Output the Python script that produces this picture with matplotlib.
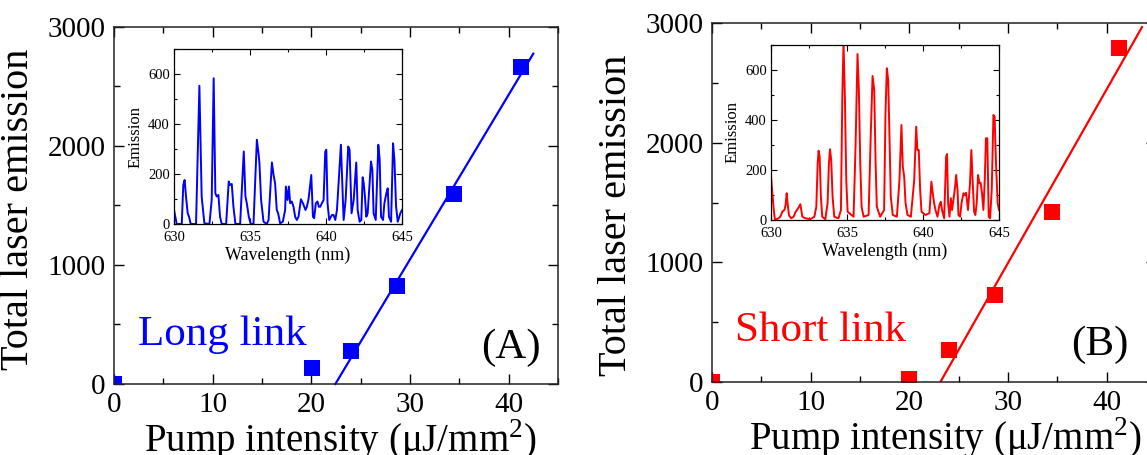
import numpy as np
import matplotlib
matplotlib.use('Agg')
import matplotlib.pyplot as plt
from matplotlib.ticker import MultipleLocator

plt.rcParams['font.family'] = ['Liberation Serif', 'DejaVu Serif']
plt.rcParams['mathtext.fontset'] = 'custom'
plt.rcParams['mathtext.rm'] = 'Liberation Serif'

# main data: pump intensity vs total laser emission
pump_a = [0.0, 20.1, 24.0, 28.7, 34.5, 41.3]
emis_a = [0, 135, 278, 820, 1595, 2665]
pump_b = [0.0, 20.0, 24.0, 28.7, 34.5, 41.3]
emis_b = [0, 25, 267, 727, 1420, 2790]
fit_end_a = 42.5
fit_end_b = 43.6

# inset spectra
wl_a = [630.00, 630.18, 630.51, 630.61, 630.70, 630.79, 630.90, 630.99, 631.10, 631.45,
        631.67, 631.82, 631.93, 632.00, 632.33, 632.48, 632.61, 632.72, 632.81, 632.92,
        633.03, 633.14, 633.43, 633.60, 633.69, 633.80, 633.91, 634.04, 634.35, 634.59,
        634.70, 634.79, 634.92, 635.05, 635.23, 635.45, 635.56, 635.62, 635.73, 635.89,
        636.11, 636.22, 636.44, 636.55, 636.65, 636.76, 636.85, 636.98, 637.16, 637.31,
        637.36, 637.47, 637.56, 637.64, 637.75, 637.86, 637.97, 638.08, 638.19, 638.35,
        638.48, 638.57, 638.65, 638.74, 638.85, 639.03, 639.14, 639.22, 639.33, 639.44,
        639.53, 639.62, 639.73, 639.84, 639.95, 640.02, 640.10, 640.21, 640.39, 640.50,
        640.61, 640.72, 640.98, 641.11, 641.16, 641.29, 641.46, 641.55, 641.68, 641.82,
        641.99, 642.08, 642.21, 642.32, 642.41, 642.48, 642.56, 642.65, 642.74, 642.96,
        643.05, 643.13, 643.27, 643.44, 643.53, 643.62, 643.75, 643.84, 643.97, 644.06,
        644.14, 644.28, 644.41, 644.50, 644.61, 644.72, 644.89, 645.00]
sp_a = [56, 0, 0, 156, 176, 110, 43, 29, 0, 0,
        553, 110, 43, 3, 0, 96, 583, 123, 110, 116,
        29, 0, 0, 170, 156, 160, 69, 0, 0, 290,
        110, 83, 29, 0, 0, 337, 283, 243, 96, 9,
        0, 16, 246, 196, 163, 56, 43, 3, 9, 56,
        150, 96, 150, 83, 90, 69, 29, 16, 29, 99,
        83, 69, 56, 69, 99, 196, 29, 23, 83, 90,
        69, 69, 83, 96, 290, 297, 83, 16, 36, 36,
        16, 56, 317, 96, 16, 96, 310, 297, 43, 96,
        246, 56, 9, 16, 187, 163, 110, 29, 43, 250,
        216, 43, 16, 317, 257, 29, 16, 83, 123, 143,
        29, 9, 323, 257, 69, 9, 43, 56]

wl_b = [630.00, 630.09, 630.18, 630.26, 630.50, 630.61, 630.74, 630.88, 630.96, 631.03,
        631.09, 631.18, 631.31, 631.49, 631.62, 631.71, 631.84, 631.93, 631.99, 632.06,
        632.26, 632.58, 632.85, 632.98, 633.07, 633.13, 633.20, 633.28, 633.37, 633.57,
        633.72, 633.81, 633.88, 633.96, 634.05, 634.16, 634.44, 634.60, 634.69, 634.77,
        634.86, 634.95, 635.04, 635.43, 635.56, 635.69, 635.78, 635.87, 635.96, 636.09,
        636.42, 636.57, 636.68, 636.79, 636.88, 636.96, 637.18, 637.44, 637.53, 637.62,
        637.71, 637.80, 637.88, 638.01, 638.28, 638.45, 638.58, 638.67, 638.76, 638.85,
        638.98, 639.20, 639.42, 639.55, 639.63, 639.72, 639.81, 639.90, 640.16, 640.42,
        640.55, 640.64, 640.73, 640.82, 640.95, 641.08, 641.17, 641.25, 641.39, 641.52,
        641.58, 641.65, 641.74, 641.83, 641.91, 642.00, 642.11, 642.18, 642.27, 642.33,
        642.44, 642.53, 642.66, 642.75, 642.83, 642.96, 643.09, 643.18, 643.26, 643.36,
        643.44, 643.53, 643.62, 643.71, 643.79, 643.88, 643.97, 644.06, 644.14, 644.23,
        644.32, 644.41, 644.52, 644.63, 644.71, 644.80, 644.91, 645.00]
sp_b = [173, 107, 40, 0, 7, 13, 33, 40, 60, 107,
        67, 20, 7, 13, 33, 40, 53, 63, 40, 13,
        7, 3, 13, 53, 227, 277, 253, 93, 13, 3,
        67, 227, 283, 240, 93, 13, 7, 40, 493, 710,
        493, 160, 33, 13, 293, 664, 520, 227, 53, 13,
        20, 360, 576, 520, 227, 53, 13, 40, 427, 607,
        560, 320, 93, 20, 13, 160, 380, 213, 173, 67,
        20, 13, 160, 373, 280, 280, 120, 33, 20, 27,
        153, 107, 67, 40, 13, 60, 73, 40, 7, 253,
        264, 67, 13, 87, 40, 80, 133, 180, 120, 20,
        13, 67, 107, 100, 109, 40, 147, 280, 160, 33,
        20, 67, 180, 147, 149, 107, 40, 160, 327, 327,
        13, 7, 120, 420, 413, 227, 67, 40]

blue = '#0000ff'
red = '#ff0000'


def style_main(ax):
    ax.set_xlim(0, 45)
    ax.set_ylim(0, 3000)
    ax.xaxis.set_major_locator(MultipleLocator(10))
    ax.xaxis.set_minor_locator(MultipleLocator(5))
    ax.yaxis.set_major_locator(MultipleLocator(1000))
    ax.yaxis.set_minor_locator(MultipleLocator(500))
    ax.tick_params(which='both', direction='in', top=True, right=True, width=1, labelsize=21, pad=6)
    ax.tick_params(which='major', length=7)
    ax.tick_params(which='minor', length=4)
    for s in ax.spines.values():
        s.set_linewidth(1.1)
        s.set_color('#222222')


def style_inset(ax):
    ax.set_xlim(630, 645)
    ax.set_ylim(0, 700)
    ax.xaxis.set_major_locator(MultipleLocator(5))
    ax.xaxis.set_minor_locator(MultipleLocator(2.5))
    ax.yaxis.set_major_locator(MultipleLocator(200))
    ax.yaxis.set_minor_locator(MultipleLocator(100))
    ax.tick_params(which='both', direction='in', top=True, right=True, width=0.8, labelsize=10.5)
    ax.tick_params(axis='x', pad=5)
    ax.tick_params(axis='y', pad=3)
    ax.tick_params(which='major', length=4)
    ax.tick_params(which='minor', length=2.5)
    for s in ax.spines.values():
        s.set_linewidth(0.9)
    ax.set_xlabel('Wavelength (nm)', fontsize=13, labelpad=2)
    ax.set_ylabel('Emission', fontsize=12, labelpad=3)


def fit_line(x, y, x_end):
    k, b = np.polyfit(x[2:], y[2:], 1)
    x0 = -b / k
    xs = np.array([x0, x_end])
    return xs, k * xs + b


fig = plt.figure(figsize=(11.47, 4.55), dpi=100)

# panel A
axA = fig.add_axes([0.0994, 0.156, 0.387, 0.785])
style_main(axA)
xs, ys = fit_line(np.array(pump_a), np.array(emis_a), fit_end_a)
axA.plot(xs, ys, color=blue, lw=1.6, clip_on=False)
axA.plot(pump_a, emis_a, 's', color=blue, ms=11.5, mew=0)
axA.text(2.4, 330, 'Long link', color=blue, fontsize=31)
axA.text(43.3, 220, '(A)', color='black', fontsize=31, ha='right')
axA.set_ylabel('Total laser emission', fontsize=29)
axA.yaxis.set_label_coords(-0.173, 0.49)
axA.set_xlabel('Pump intensity (μJ/mm$^2$)', fontsize=28)
axA.xaxis.set_label_coords(0.509, -0.093)

insA = fig.add_axes([0.1517, 0.5077, 0.1988, 0.3846])
style_inset(insA)
insA.plot(wl_a, sp_a, color=blue, lw=1.4)

# panel B
axB = fig.add_axes([0.6207, 0.1604, 0.387, 0.789])
style_main(axB)
xs, ys = fit_line(np.array(pump_b), np.array(emis_b), fit_end_b)
axB.plot(xs, ys, color=red, lw=1.6)
axB.plot(pump_b, emis_b, 's', color=red, ms=11.5, mew=0)
axB.text(2.3, 345, 'Short link', color=red, fontsize=31)
axB.text(42.2, 225, '(B)', color='black', fontsize=31, ha='right')
axB.set_ylabel('Total laser emission', fontsize=29)
axB.yaxis.set_label_coords(-0.173, 0.465)
axB.set_xlabel('Pump intensity (μJ/mm$^2$)', fontsize=28)
axB.xaxis.set_label_coords(0.525, -0.093)

insB = fig.add_axes([0.6722, 0.5165, 0.1988, 0.3846])
style_inset(insB)
insB.plot(wl_b, sp_b, color=red, lw=1.4)

fig.savefig('out.png', dpi=100)
